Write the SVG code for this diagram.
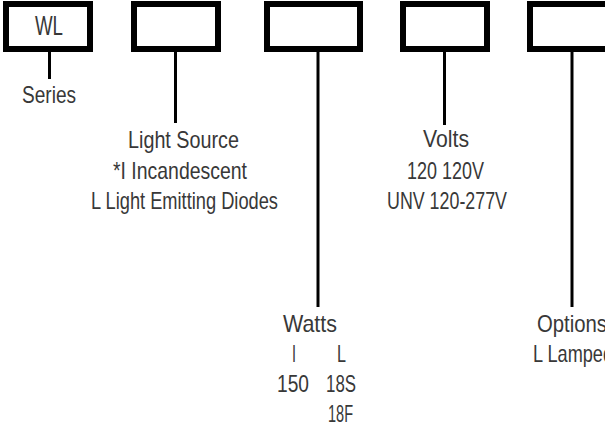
<svg xmlns="http://www.w3.org/2000/svg" width="605" height="427" viewBox="0 0 605 427">
<style>
.box{fill:#fff;stroke:#000;stroke-width:6}
.ln{stroke:#000;stroke-width:3;fill:none}
text{font-family:"Liberation Sans",Arial,sans-serif;font-size:24px;fill:#383838}
.c{text-anchor:middle}
</style>
<rect width="605" height="427" fill="#fff"/>
<g id="connectors">
<line class="ln" x1="49.5" y1="52" x2="49.5" y2="79"/>
<line class="ln" x1="175.5" y1="52" x2="175.5" y2="123"/>
<line class="ln" x1="318" y1="52" x2="318" y2="307"/>
<line class="ln" x1="444.5" y1="52" x2="444.5" y2="125"/>
<line class="ln" x1="572" y1="52" x2="572" y2="307"/>
</g>
<g id="series">
<rect class="box" x="6" y="4" width="84" height="45"/>
<text class="c" x="49" y="35" style="font-size:27px" textLength="28" lengthAdjust="spacingAndGlyphs">WL</text>
<text class="c" x="49" y="103" textLength="54" lengthAdjust="spacingAndGlyphs">Series</text>
</g>
<g id="light-source">
<rect class="box" x="134" y="4" width="84" height="45"/>
<text class="c" x="183.5" y="148" textLength="111" lengthAdjust="spacingAndGlyphs">Light Source</text>
<text class="c" x="180" y="179" textLength="134" lengthAdjust="spacingAndGlyphs">*I Incandescent</text>
<text class="c" x="184.5" y="209" textLength="187" lengthAdjust="spacingAndGlyphs">L Light Emitting Diodes</text>
</g>
<g id="watts">
<rect class="box" x="267" y="4" width="93" height="45"/>
<text class="c" x="310" y="332" textLength="54" lengthAdjust="spacingAndGlyphs">Watts</text>
<text x="292" y="362" textLength="4" lengthAdjust="spacingAndGlyphs">I</text>
<text x="337" y="362" textLength="9" lengthAdjust="spacingAndGlyphs">L</text>
<text x="277" y="392" textLength="32" lengthAdjust="spacingAndGlyphs">150</text>
<text x="326" y="392" textLength="30" lengthAdjust="spacingAndGlyphs">18S</text>
<text x="328" y="422" textLength="25" lengthAdjust="spacingAndGlyphs">18F</text>
</g>
<g id="volts">
<rect class="box" x="403" y="4" width="84" height="45"/>
<text class="c" x="446" y="147" textLength="46" lengthAdjust="spacingAndGlyphs">Volts</text>
<text class="c" x="445.5" y="179" textLength="77" lengthAdjust="spacingAndGlyphs">120 120V</text>
<text class="c" x="447" y="209" textLength="120" lengthAdjust="spacingAndGlyphs">UNV 120-277V</text>
</g>
<g id="options">
<rect class="box" x="530" y="4" width="100" height="45"/>
<text x="537" y="332" textLength="70" lengthAdjust="spacingAndGlyphs">Options</text>
<text x="533" y="362" textLength="80" lengthAdjust="spacingAndGlyphs">L Lamped</text>
</g>
</svg>
